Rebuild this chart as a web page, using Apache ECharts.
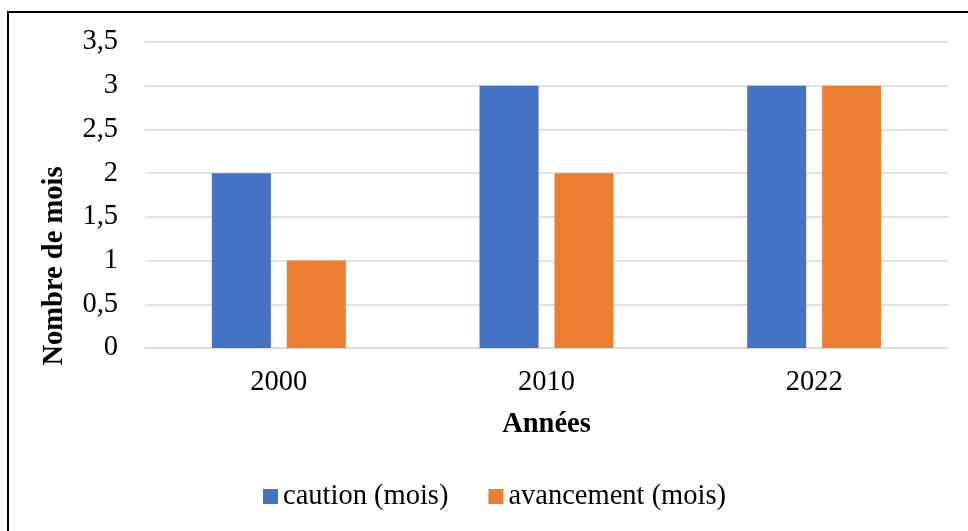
<!DOCTYPE html>
<html>
<head>
<meta charset="utf-8">
<script src="https://cdn.jsdelivr.net/npm/echarts@6/dist/echarts.min.js"></script>
<style>
  html, body { margin: 0; padding: 0; background: #fff; }
  #chart { width: 968px; height: 531px; }
</style>
</head>
<body>
<div id="chart"></div>
<script>
const years = ['2000', '2010', '2022'];
const caution = [2, 3, 3];
const avancement = [1, 2, 3];

const font = '"Liberation Serif", "Times New Roman", serif';
const fs = 28.5;
const chart = echarts.init(document.getElementById('chart'));

chart.setOption({
  animation: false,
  textStyle: { fontFamily: font },
  graphic: [
    {
      type: 'rect',
      shape: { x: 8, y: 12, width: 1000, height: 600 },
      style: { fill: 'none', stroke: '#000', lineWidth: 2 },
      silent: true
    },
    {
      type: 'text',
      x: 55,
      y: 266,
      rotation: Math.PI / 2,
      style: {
        text: 'Nombre de mois',
        font: 'bold ' + fs + 'px ' + font,
        fill: '#000',
        align: 'center',
        verticalAlign: 'middle'
      }
    }
  ],
  grid: { left: 145, right: 20, top: 42, bottom: 183, containLabel: false },
  legend: {
    bottom: 15,
    left: 258,
    itemWidth: 15,
    itemHeight: 15,
    itemGap: 40,
    icon: 'rect',
    textStyle: { fontSize: fs, color: '#000', fontFamily: font },
    data: ['caution (mois)', 'avancement (mois)']
  },
  xAxis: {
    type: 'category',
    data: years,
    name: 'Années',
    nameLocation: 'middle',
    nameGap: 62,
    nameTextStyle: { fontSize: fs, fontWeight: 'bold', color: '#000', fontFamily: font },
    axisLine: { lineStyle: { color: '#d9d9d9', width: 1.5 } },
    axisTick: { show: false },
    axisLabel: { fontSize: fs, color: '#000', margin: 20, fontFamily: font }
  },
  yAxis: {
    type: 'value',
    min: 0,
    max: 3.5,
    interval: 0.5,
    axisLine: { show: false },
    axisTick: { show: false },
    splitLine: { lineStyle: { color: '#d9d9d9', width: 1.5 } },
    axisLabel: {
      fontSize: fs,
      color: '#000',
      margin: 27,
      fontFamily: font,
      formatter: v => String(v).replace('.', ',')
    }
  },
  series: [
    {
      name: 'caution (mois)',
      type: 'bar',
      data: caution,
      barWidth: 59,
      barGap: '27%',
      itemStyle: { color: '#4472C4' }
    },
    {
      name: 'avancement (mois)',
      type: 'bar',
      data: avancement,
      barWidth: 59,
      itemStyle: { color: '#ED7D31' }
    }
  ]
});
</script>
</body>
</html>
